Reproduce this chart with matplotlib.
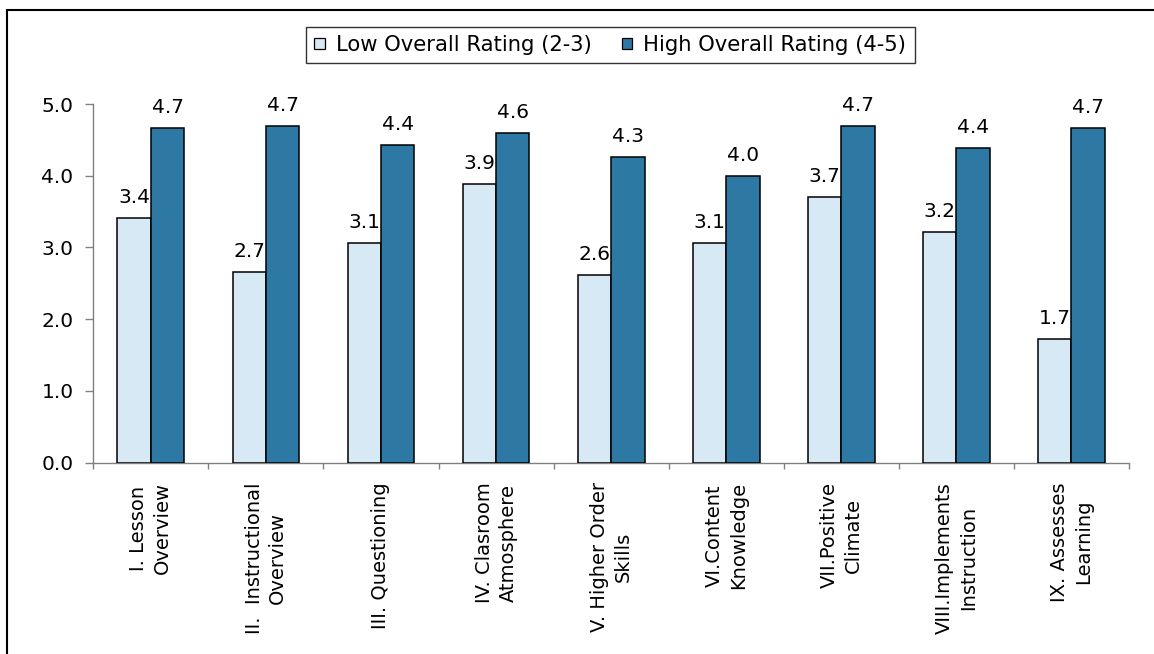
import matplotlib
matplotlib.use("Agg")
import matplotlib.pyplot as plt
from matplotlib.patches import Patch, Rectangle
import numpy as np

plt.rcParams['font.family'] = ['DejaVu Sans']

categories = [
    "I. Lesson\nOverview",
    "II.  Instructional\nOverview",
    "III. Questioning",
    "IV. Clasroom\nAtmosphere",
    "V. Higher Order\nSkills",
    "VI.Content\nKnowledge",
    "VII.Positive\nClimate",
    "VIII.Implements\nInstruction",
    "IX. Assesses\nLearning",
]
low_rating = [3.41, 2.66, 3.06, 3.88, 2.62, 3.06, 3.71, 3.21, 1.73]
high_rating = [4.66, 4.70, 4.43, 4.60, 4.26, 4.00, 4.69, 4.38, 4.67]
series_names = ["Low Overall Rating (2-3)", "High Overall Rating (4-5)"]
y_ticks = [0.0, 1.0, 2.0, 3.0, 4.0, 5.0]

LOW_COLOR = "#D7E9F4"
HIGH_COLOR = "#2E79A3"
AXIS_GRAY = "#808080"

W, H = 1154, 654
fig = plt.figure(figsize=(W / 100, H / 100), dpi=100)
ax = fig.add_axes([93.3 / W, (H - 462.7) / H, 1035.7 / W, 358.7 / H])

centers = np.arange(len(categories)) + 0.5
bw = 0.29

bars_low = ax.bar(centers - bw / 2, low_rating, width=bw, color=LOW_COLOR,
                  edgecolor="black", linewidth=1.1, zorder=3)
bars_high = ax.bar(centers + bw / 2, high_rating, width=bw, color=HIGH_COLOR,
                   edgecolor="black", linewidth=1.1, zorder=3)

for bars, vals in ((bars_low, low_rating), (bars_high, high_rating)):
    for b, v in zip(bars, vals):
        ax.annotate(f"{v:.1f}", (b.get_x() + b.get_width() / 2, v),
                    xytext=(0, 10.8), textcoords="offset points",
                    ha="center", va="baseline", fontsize=14.5, color="black",
                    zorder=4)

ax.set_xlim(0, len(categories))
ax.set_ylim(0, 5)

# y axis
ax.set_yticks(y_ticks)
ax.set_yticklabels([f"{t:.1f}" for t in y_ticks], fontsize=14.5)
ax.tick_params(axis="y", direction="out", length=5.8, width=1.0,
               color=AXIS_GRAY, pad=8.5)

# x axis: ticks at category boundaries, labels at centres
ax.set_xticks(np.arange(len(categories) + 1))
ax.set_xticklabels([])
ax.tick_params(axis="x", which="major", direction="out", length=4.3,
               width=1.0, color=AXIS_GRAY)
ax.set_xticks(centers, minor=True)
ax.set_xticklabels(categories, minor=True, rotation=90, fontsize=14,
                   ha="center", va="top", linespacing=1.32,
                   multialignment="center")
ax.tick_params(axis="x", which="minor", length=0, pad=14)

for side in ("top", "right"):
    ax.spines[side].set_visible(False)
for side in ("left", "bottom"):
    ax.spines[side].set_color(AXIS_GRAY)
    ax.spines[side].set_linewidth(1.0)

# legend
fs_leg = 15.2
handles = [Patch(facecolor=LOW_COLOR, edgecolor="black", linewidth=0.9),
           Patch(facecolor=HIGH_COLOR, edgecolor="black", linewidth=0.9)]
leg = fig.legend(handles, series_names, loc="center",
                 bbox_to_anchor=(610.4 / W, 1 - 45 / H), ncol=2,
                 fontsize=fs_leg, frameon=True, fancybox=False, shadow=False,
                 handlelength=0.48, handleheight=0.48, handletextpad=0.55,
                 columnspacing=1.4, borderpad=0.4, borderaxespad=0)
frame = leg.get_frame()
frame.set_edgecolor("#333333")
frame.set_linewidth(1.0)
frame.set_alpha(1.0)

# outer chart border
fig.add_artist(Rectangle((7 / W, -0.2), 1.5, (H - 10) / H + 0.2,
                         transform=fig.transFigure, fill=False,
                         edgecolor="black", linewidth=1.5))

fig.savefig("out.png", dpi=100)
